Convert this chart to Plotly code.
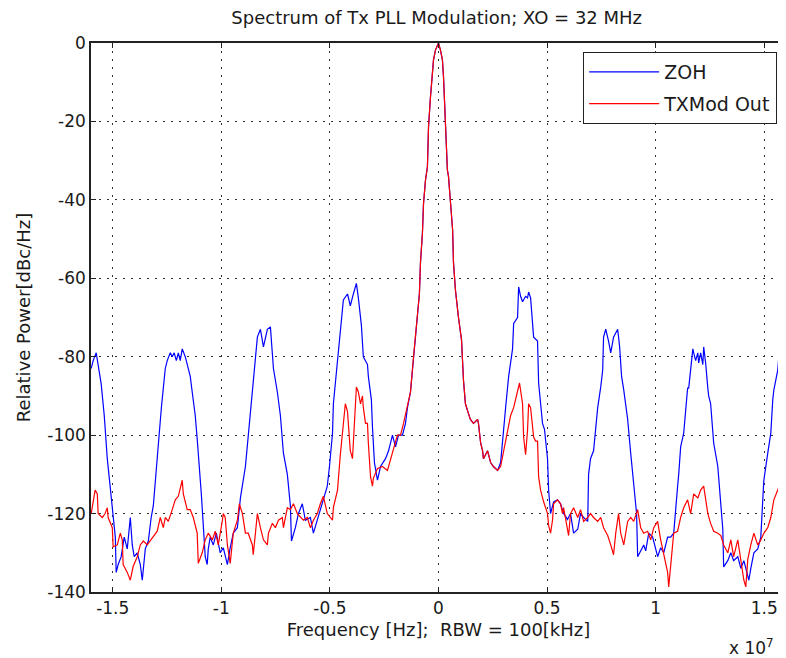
import plotly.graph_objects as go

# Frequency in MHz, power in dBc/Hz
zoh_freq_mhz = [-15.99, -15.90, -15.76, -15.67, -15.53, -15.39, -15.25, -15.12, -14.98, -14.88, -14.84, -14.75,
                -14.61, -14.47, -14.33, -14.19, -14.10, -14.01, -13.87, -13.73, -13.64, -13.50, -13.36, -13.23,
                -13.13, -13.04, -12.95, -12.86, -12.76, -12.67, -12.58, -12.49, -12.35, -12.26, -12.17, -12.07,
                -11.98, -11.89, -11.80, -11.66, -11.57, -11.43, -11.34, -11.20, -11.11, -11.01, -10.92, -10.83,
                -10.74, -10.65, -10.60, -10.51, -10.37, -10.23, -10.05, -9.91, -9.72, -9.59, -9.45, -9.26,
                -9.12, -8.89, -8.66, -8.53, -8.34, -8.20, -8.06, -7.88, -7.74, -7.60, -7.42, -7.28,
                -7.14, -6.96, -6.82, -6.77, -6.59, -6.45, -6.27, -6.13, -5.90, -5.76, -5.58, -5.44,
                -5.30, -5.12, -5.02, -4.88, -4.84, -4.65, -4.52, -4.38, -4.19, -4.06, -3.92, -3.78,
                -3.69, -3.55, -3.46, -3.27, -3.23, -3.09, -3.04, -2.95, -2.81, -2.67, -2.44, -2.30,
                -2.12, -1.98, -1.84, -1.66, -1.52, -1.43, -1.29, -1.15, -1.06, -0.97, -0.88, -0.83,
                -0.74, -0.69, -0.60, -0.51, -0.46, -0.37, -0.28, -0.23, -0.14, -0.05, 0.00, 0.09,
                0.18, 0.23, 0.32, 0.41, 0.46, 0.55, 0.65, 0.69, 0.78, 0.92, 1.06, 1.15,
                1.24, 1.38, 1.47, 1.61, 1.80, 1.84, 1.94, 2.03, 2.07, 2.26, 2.40, 2.53,
                2.72, 2.86, 2.95, 3.09, 3.23, 3.41, 3.46, 3.64, 3.69, 3.78, 3.87, 4.01,
                4.10, 4.15, 4.24, 4.38, 4.56, 4.61, 4.79, 4.88, 5.02, 5.07, 5.16, 5.30,
                5.48, 5.62, 5.76, 5.94, 6.08, 6.22, 6.41, 6.54, 6.68, 6.87, 6.91, 7.00,
                7.14, 7.24, 7.33, 7.47, 7.56, 7.60, 7.70, 7.83, 7.93, 8.06, 8.25, 8.34,
                8.43, 8.53, 8.71, 8.85, 8.99, 9.12, 9.17, 9.31, 9.45, 9.54, 9.68, 9.86,
                10.00, 10.09, 10.23, 10.37, 10.55, 10.69, 10.83, 10.92, 11.01, 11.06, 11.15, 11.29,
                11.47, 11.52, 11.61, 11.71, 11.75, 11.84, 11.94, 11.98, 12.07, 12.17, 12.21, 12.30,
                12.40, 12.44, 12.53, 12.63, 12.67, 12.86, 13.00, 13.09, 13.13, 13.32, 13.46, 13.59,
                13.78, 13.92, 14.06, 14.24, 14.29, 14.38, 14.52, 14.70, 14.84, 14.93, 14.98, 15.16,
                15.30, 15.39, 15.44, 15.62, 15.67, 15.76, 15.85, 15.90, 15.99]
zoh_db = [-83, -81, -79, -82, -87, -95, -106, -113, -120, -126, -135, -133,
          -131, -126, -129, -121, -128, -131, -130, -133, -137, -129, -127, -121,
          -118, -112, -104, -100, -93, -88, -83, -81, -79, -80, -79, -81,
          -79, -81, -78, -80, -82, -85, -89, -95, -101, -108, -115, -123,
          -131, -133, -129, -126, -128, -125, -130, -128.7, -133, -128.7, -125, -123.6,
          -116, -108, -95, -87, -75, -73, -77.5, -73, -72.4, -83, -89, -95,
          -104.6, -110, -118, -127, -123.6, -120, -117.5, -121.7, -121, -125, -121.7, -118.5,
          -116.5, -113, -108, -99.5, -92, -81.6, -73, -65.5, -64, -67, -64, -61.3,
          -65, -72, -80, -82, -85, -91, -98, -107, -111.5, -108, -106, -104,
          -100, -103, -100, -100, -97, -93, -89, -80, -75, -70, -64, -56,
          -48.5, -41, -35, -31.6, -21.4, -13.8, -8.6, -4.3, -1.8, -0.3, 0, -1.8,
          -4.3, -8.6, -19.6, -32.4, -34, -40, -47.7, -56, -63, -70, -75.7, -86,
          -92, -94.5, -96, -97, -96, -97, -102, -104, -106, -104, -107, -108,
          -109, -107, -101, -93, -85, -78, -71.5, -70, -62.2, -64.6, -66, -64.6,
          -65, -63.5, -65, -75, -76, -86.7, -97, -98.5, -106, -114, -120, -117,
          -116.5, -117.5, -120, -121.5, -120, -125, -124, -120, -121, -122, -110, -106,
          -104, -98, -93, -87.7, -83.4, -75, -73, -76, -79, -75, -73, -77.5,
          -85, -88.5, -96, -104.6, -113, -120, -131, -129.5, -128, -129.5, -125, -126,
          -129.5, -131, -128.7, -130, -126, -126, -125, -118, -113, -110, -103, -99.5,
          -88, -88, -83.4, -78, -79, -81, -79, -81.6, -79, -82, -77.5, -81.6,
          -88, -90, -92, -99.5, -102, -108, -117, -124, -133.6, -132, -130, -132,
          -131, -134, -132, -136, -137, -134, -130, -129, -126, -116.5, -111.5, -104.6,
          -99.5, -91, -88.5, -83.4, -80, -79, -81, -84, -83.5]

txmod_freq_mhz = [-15.99, -15.90, -15.81, -15.71, -15.67, -15.48, -15.35, -15.25, -15.21, -15.02, -14.98, -14.79,
                  -14.65, -14.56, -14.52, -14.33, -14.19, -14.06, -13.87, -13.73, -13.59, -13.41, -13.27, -13.13,
                  -12.95, -12.81, -12.67, -12.58, -12.44, -12.26, -12.12, -11.98, -11.80, -11.75, -11.57, -11.43,
                  -11.29, -11.11, -11.06, -10.88, -10.74, -10.60, -10.41, -10.28, -10.14, -9.95, -9.91, -9.82,
                  -9.72, -9.59, -9.45, -9.26, -9.17, -9.03, -8.89, -8.76, -8.57, -8.53, -8.34, -8.20,
                  -8.06, -7.88, -7.83, -7.65, -7.51, -7.37, -7.19, -7.14, -6.96, -6.82, -6.68, -6.50,
                  -6.36, -6.22, -6.04, -5.90, -5.76, -5.58, -5.44, -5.30, -5.12, -4.98, -4.88, -4.84,
                  -4.65, -4.52, -4.38, -4.29, -4.19, -4.06, -3.96, -3.92, -3.78, -3.69, -3.59, -3.50,
                  -3.46, -3.36, -3.27, -3.23, -3.13, -3.04, -3.00, -2.81, -2.58, -2.35, -2.21, -2.07,
                  -1.89, -1.75, -1.61, -1.43, -1.29, -1.15, -1.06, -0.97, -0.88, -0.83, -0.74, -0.69,
                  -0.60, -0.51, -0.46, -0.37, -0.28, -0.23, -0.14, -0.05, 0.00, 0.09, 0.18, 0.23,
                  0.32, 0.41, 0.46, 0.55, 0.65, 0.69, 0.78, 0.92, 1.06, 1.15, 1.24, 1.38,
                  1.47, 1.61, 1.80, 1.84, 1.94, 2.03, 2.07, 2.26, 2.40, 2.53, 2.72, 2.86,
                  3.00, 3.18, 3.32, 3.46, 3.64, 3.73, 3.87, 3.92, 4.01, 4.10, 4.15, 4.24,
                  4.38, 4.47, 4.56, 4.61, 4.70, 4.84, 5.02, 5.07, 5.16, 5.25, 5.30, 5.48,
                  5.62, 5.71, 5.76, 5.94, 5.99, 6.08, 6.22, 6.41, 6.54, 6.68, 6.87, 7.00,
                  7.14, 7.33, 7.47, 7.60, 7.79, 7.93, 8.06, 8.16, 8.25, 8.29, 8.39, 8.53,
                  8.71, 8.85, 8.99, 9.17, 9.31, 9.45, 9.63, 9.77, 9.91, 10.09, 10.23, 10.37,
                  10.55, 10.60, 10.69, 10.78, 10.83, 11.01, 11.15, 11.29, 11.47, 11.61, 11.75, 11.94,
                  12.07, 12.21, 12.30, 12.40, 12.53, 12.67, 12.86, 13.00, 13.13, 13.32, 13.46, 13.59,
                  13.78, 13.92, 14.06, 14.15, 14.24, 14.38, 14.52, 14.70, 14.84, 14.98, 15.16, 15.30,
                  15.44, 15.62, 15.76, 15.90, 15.99]
txmod_db = [-120, -117, -114, -115, -120, -121, -120, -118.5, -121, -123.6, -128.5, -128,
            -125, -126.7, -133, -135, -137, -133.5, -131, -128, -127, -128, -127, -126,
            -124.5, -121, -123.6, -121, -122, -119, -116.5, -115.6, -111.5, -115, -119, -119,
            -121, -125, -132.7, -130, -126.7, -125, -126.7, -124.5, -128, -121.7, -120, -121,
            -128, -132.7, -125, -121.7, -117.5, -120, -125, -125, -128, -130.5, -120, -123.6,
            -126.7, -128, -125, -122.5, -123.6, -121.7, -121, -123.6, -118.5, -119, -117.5, -120,
            -121, -121.7, -121, -123.6, -121.7, -120, -117.5, -115.6, -120, -121, -121.7, -118.5,
            -114, -105, -96, -92, -94, -104, -106, -101, -87.7, -89, -92, -90,
            -93, -97, -97, -102, -110.6, -113, -111, -108.5, -108, -109, -106, -103.5,
            -100, -100, -97, -92, -89, -80, -75, -70, -64, -56, -48.5, -41,
            -35, -31.6, -21.4, -13.8, -8.6, -4.3, -1.8, -0.3, 0, -1.8, -4.3, -8.6,
            -19.6, -32.4, -34, -40, -47.7, -56, -63, -70, -75.7, -86, -92, -94.5,
            -96, -97, -96, -97, -102, -104, -106, -104, -107, -108, -109, -108,
            -104, -98.7, -95, -93, -89, -86.7, -92, -100.5, -105, -98.7, -92, -93,
            -100.5, -101.5, -101.5, -110.6, -114, -117, -120, -123, -125, -121.7, -117.5, -116.5,
            -117.5, -120, -118.5, -125, -125.6, -120, -118.5, -121, -119, -122, -121, -120,
            -121, -122, -121, -123.6, -125.6, -128, -130.5, -125, -121, -120, -125, -128,
            -122, -121, -122, -119, -123.6, -125, -124.5, -126.7, -123.6, -122, -126.7, -130,
            -135, -138.7, -133.5, -128, -125, -124.5, -121, -118.5, -116.5, -120, -115, -116,
            -114, -113, -116.5, -120, -122.5, -124.5, -125, -125.6, -128, -130, -126.7, -131,
            -126.7, -131.7, -137, -138.7, -131.7, -128, -125, -128, -126.7, -125, -123.6, -121,
            -116.5, -114, -111.5, -115, -116.5]

x_tick_vals = [-1.5e7, -1.0e7, -0.5e7, 0, 0.5e7, 1.0e7, 1.5e7]
x_tick_text = ["-1.5", "-1", "-0.5", "0", "0.5", "1", "1.5"]
y_tick_vals = [0, -20, -40, -60, -80, -100, -120, -140]
y_tick_text = ["0", "-20", "-40", "-60", "-80", "-100", "-120", "-140"]

font_family = "DejaVu Sans, Verdana, sans-serif"
txt_color = "#1a1a1a"

fig = go.Figure()
fig.add_trace(go.Scatter(x=[f * 1e6 for f in zoh_freq_mhz], y=zoh_db, mode="lines", name="ZOH",
                         legendgroup="a", line=dict(color="#0000FF", width=1.2)))
fig.add_trace(go.Scatter(x=[f * 1e6 for f in txmod_freq_mhz], y=txmod_db, mode="lines", name="TXMod Out",
                         legendgroup="b", line=dict(color="#FF0000", width=1.2)))

axis_common = dict(showline=True, linecolor="#222222", linewidth=1.5, mirror="ticks",
                   ticks="inside", ticklen=5, tickcolor="#222222", tickwidth=1,
                   showgrid=True, gridcolor="#333333", gridwidth=1, griddash="2px,6px",
                   zeroline=False, automargin=False,
                   tickfont=dict(family=font_family, size=17, color=txt_color))

fig.update_xaxes(range=[-1.6e7, 1.6e7], tickvals=x_tick_vals, ticktext=x_tick_text,
                 title=dict(text="Frequency [Hz];  RBW = 100[kHz]",
                            font=dict(family=font_family, size=18, color=txt_color), standoff=6),
                 **axis_common)
fig.update_yaxes(range=[-140, 0], tickvals=y_tick_vals, ticktext=y_tick_text,
                 title=dict(text="Relative Power[dBc/Hz]",
                            font=dict(family=font_family, size=18, color=txt_color), standoff=12),
                 **axis_common)

# The page body adds an 8px offset, so the figure is sized to the visible area.
fig.update_layout(
    width=778, height=650,
    margin=dict(l=83, r=0, t=35, b=66),
    paper_bgcolor="white", plot_bgcolor="white",
    title=dict(text="Spectrum of Tx PLL Modulation; XO = 32 MHz", x=0.551, xanchor="center",
               y=0.985, yanchor="middle",
               font=dict(family=font_family, size=18, color=txt_color)),
    legend=dict(x=0.987, y=0.984, xanchor="right", yanchor="top", bgcolor="white",
                bordercolor="#222222", borderwidth=1.2, traceorder="grouped", tracegroupgap=4,
                itemwidth=70,
                font=dict(family=font_family, size=19, color=txt_color)),
    showlegend=True,
    annotations=[dict(text="x 10<sup>7</sup>", xref="paper", yref="paper", x=0.951, y=-0.1,
                      xanchor="center", yanchor="middle", showarrow=False,
                      font=dict(family=font_family, size=17, color=txt_color))],
)

fig.write_html("out.html")
